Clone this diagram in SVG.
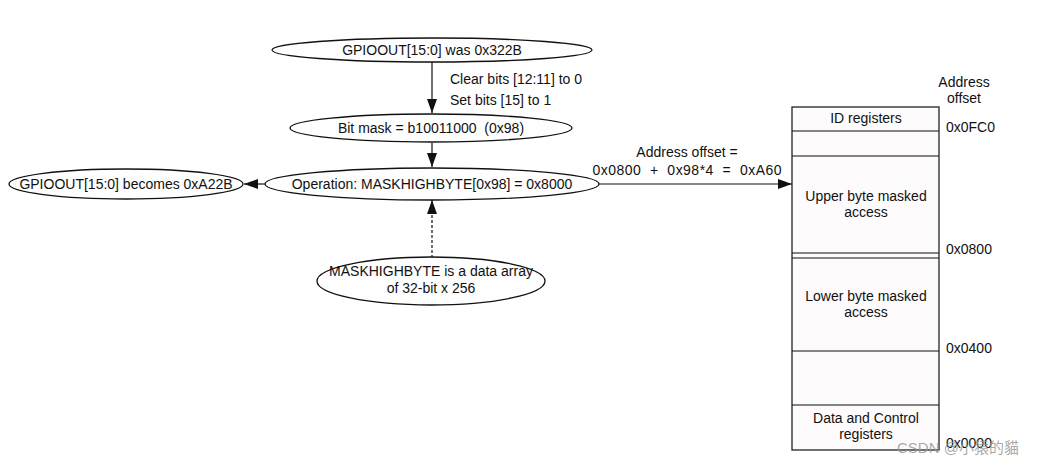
<svg xmlns="http://www.w3.org/2000/svg" width="1049" height="465" viewBox="0 0 1049 465">
<defs>
<style>
.n{fill:#fefefe;stroke:#111;stroke-width:1.3}
.t{font-family:"Liberation Sans",Arial,sans-serif;font-size:14px;fill:#111;text-anchor:middle}
.l{font-family:"Liberation Sans",Arial,sans-serif;font-size:14px;fill:#111}
.c{stroke:#111;stroke-width:1.2;fill:none}
.box{fill:#fdfbfc;stroke:#222;stroke-width:1.3}
</style>
<marker id="ahl" viewBox="0 0 14 10" refX="14" refY="5" markerWidth="14" markerHeight="10" markerUnits="userSpaceOnUse" orient="auto"><path d="M0,0 L14,5 L0,10 z" fill="#111"/></marker>
</defs>
<rect width="1049" height="465" fill="#fff"/>
<g id="connectors">
<line class="c" x1="432" y1="62" x2="432" y2="113" marker-end="url(#ahl)"/>
<line class="c" x1="432" y1="143" x2="432" y2="167" marker-end="url(#ahl)"/>
<line class="c" x1="265" y1="184" x2="244" y2="184" marker-end="url(#ahl)"/>
<line class="c" x1="432" y1="258" x2="432" y2="200" stroke-dasharray="3,2" marker-end="url(#ahl)"/>
<line class="c" x1="599" y1="184" x2="792" y2="184" marker-end="url(#ahl)"/>
<text class="l" x="450" y="84">Clear bits [12:11] to 0</text>
<text class="l" x="450" y="105">Set bits [15] to 1</text>
<text class="t" x="687" y="157">Address offset =</text>
<text class="t" x="687" y="175" textLength="189" lengthAdjust="spacing" xml:space="preserve">0x0800  +  0x98*4  =  0xA60</text>
</g>
<g id="was">
<ellipse class="n" cx="432" cy="50" rx="160" ry="12"/>
<text class="t" x="432" y="55">GPIOOUT[15:0] was 0x322B</text>
</g>
<g id="bitmask">
<ellipse class="n" cx="431" cy="128" rx="141" ry="14"/>
<text class="t" x="431" y="133" xml:space="preserve">Bit mask = b10011000  (0x98)</text>
</g>
<g id="operation">
<ellipse class="n" cx="432" cy="184" rx="167" ry="16"/>
<text class="t" x="432" y="189">Operation: MASKHIGHBYTE[0x98] = 0x8000</text>
</g>
<g id="becomes">
<ellipse class="n" cx="126" cy="184" rx="117" ry="15"/>
<text class="t" x="126" y="189">GPIOOUT[15:0] becomes 0xA22B</text>
</g>
<g id="array">
<ellipse class="n" cx="431" cy="281" rx="114" ry="24"/>
<text class="t" x="431" y="276">MASKHIGHBYTE is a data array</text>
<text class="t" x="431" y="293">of 32-bit x 256</text>
</g>
<g id="memmap">
<rect class="box" x="792" y="107" width="147" height="343"/>
<line class="c" x1="792" y1="131" x2="939" y2="131"/>
<line class="c" x1="792" y1="156" x2="939" y2="156"/>
<line class="c" x1="792" y1="253" x2="939" y2="253"/>
<line class="c" x1="792" y1="258" x2="939" y2="258"/>
<line class="c" x1="792" y1="351" x2="939" y2="351"/>
<line class="c" x1="792" y1="405" x2="939" y2="405"/>
<text class="t" x="866" y="123">ID registers</text>
<text class="t" x="866" y="201">Upper byte masked</text>
<text class="t" x="866" y="217">access</text>
<text class="t" x="866" y="301">Lower byte masked</text>
<text class="t" x="866" y="317">access</text>
<text class="t" x="866" y="423">Data and Control</text>
<text class="t" x="866" y="439">registers</text>
<text class="t" x="964" y="87">Address</text>
<text class="t" x="964" y="103">offset</text>
<text class="l" x="946" y="132">0x0FC0</text>
<text class="l" x="946" y="254">0x0800</text>
<text class="l" x="946" y="353">0x0400</text>
<text class="l" x="946" y="448">0x0000</text>
</g>
<text x="897" y="453" font-family="'Liberation Sans','Noto Sans CJK SC',sans-serif" font-size="15" fill="#9a9a9a" fill-opacity="0.85">CSDN @小猿的貓</text>
</svg>
